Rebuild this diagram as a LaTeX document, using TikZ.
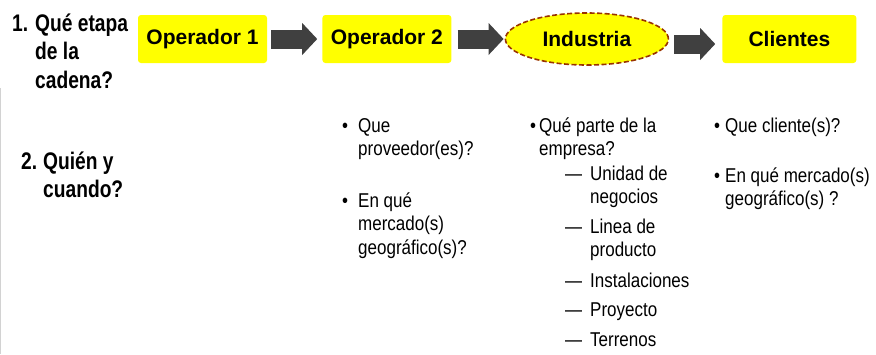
\documentclass[tikz,border=0pt]{standalone}
\usepackage{fontspec}
\setmainfont{Liberation Sans}
\newfontfamily\angosta[FakeStretch=0.85]{Liberation Sans}
\newfontfamily\angostanegrita[FakeStretch=0.8]{Liberation Sans}
\usepackage{tikz}
\usetikzlibrary{positioning,shapes.geometric,arrows.meta}
\definecolor{amarillo}{HTML}{FFFF00}
\definecolor{grisflecha}{HTML}{404040}
\definecolor{borde}{HTML}{993300}

\begin{document}
\begin{tikzpicture}[x=1pt, y=-1pt,
  caja/.style={rectangle, fill=amarillo, rounded corners=3pt, minimum width=129pt, minimum height=48pt, inner sep=0pt, font=\bfseries\fontsize{21}{25}\selectfont},
  ovalo/.style={ellipse, fill=amarillo, draw=borde, line width=1.6pt, dash pattern=on 5pt off 2.5pt, minimum width=163pt, minimum height=52pt, inner sep=0pt, font=\bfseries\fontsize{21}{25}\selectfont},
  flecha/.style={grisflecha, line width=19pt, -{Triangle[length=15pt, width=32pt, line width=0pt]}},
  pregunta/.style={anchor=base west, inner sep=0pt, font=\angostanegrita\bfseries\fontsize{24}{28.5}\selectfont},
  vineta/.style={anchor=base west, inner sep=0pt, font=\angosta\fontsize{20}{23.5}\selectfont}
]
\useasboundingbox (0,0) rectangle (876,354);
\draw[gray!35, line width=1pt] (0.5,88) -- (0.5,354);

% Cadena
\node[caja] (op1) at (202.5,39) {Operador 1};
\node[caja, right=55pt of op1] (op2) {Operador 2};
\node[ovalo, right=53pt of op2] (ind) {Industria};
\node[caja, right=53pt of ind, minimum width=134pt] (cli) {Clientes};

% Flechas
\draw[flecha, shorten <=4pt, shorten >=5pt] (op1) -- (op2);
\draw[flecha, shorten <=6pt, shorten >=1pt] (op2) -- (ind);
\draw[flecha, shorten <=5pt, shorten >=7pt] ([yshift=-5pt]ind.east) -- ([yshift=-5pt]cli.west);

% Preguntas
\node[pregunta] (etapa) at (12,31) {\begin{tabular}[t]{@{}l@{\hspace{7pt}}l@{}}1. & Qué etapa\\ & de la\\ & cadena?\end{tabular}};
\node[pregunta] (quien) at (21,169) {\begin{tabular}[t]{@{}l@{\hspace{6pt}}l@{}}2. & Quién y\\ & cuando?\end{tabular}};

% Operador 2
\node[vineta] (prov) at (342,132) {\begin{tabular}[t]{@{}l@{}l@{}}\makebox[16pt][l]{\textbullet} & Que\\ & proveedor(es)?\end{tabular}};
\node[vineta] (merc) at (342,207) {\begin{tabular}[t]{@{}l@{}l@{}}\makebox[16pt][l]{\textbullet} & En qué\\ & mercado(s)\\ & geográfico(s)?\end{tabular}};

% Industria
\node[vineta] (parte) at (530,132) {\begin{tabular}[t]{@{}l@{}l@{}}\makebox[9pt][l]{\textbullet} & Qué parte de la\\ & empresa?\end{tabular}};
\node[vineta] (unidad) at (565,180) {\begin{tabular}[t]{@{}l@{}l@{}}\makebox[25pt][l]{—} & Unidad de\\ & negocios\end{tabular}};
\node[vineta] (linea) at (565,233) {\begin{tabular}[t]{@{}l@{}l@{}}\makebox[25pt][l]{—} & Linea de\\ & producto\end{tabular}};
\node[vineta] (inst) at (565,287) {\makebox[25pt][l]{—}Instalaciones};
\node[vineta] (proy) at (565,316.5) {\makebox[25pt][l]{—}Proyecto};
\node[vineta] (terr) at (565,346) {\makebox[25pt][l]{—}Terrenos};

% Clientes
\node[vineta] (quecli) at (714,132) {\begin{tabular}[t]{@{}l@{}l@{}}\makebox[11pt][l]{\textbullet} & Que cliente(s)?\end{tabular}};
\node[vineta] (geo) at (714,182) {\begin{tabular}[t]{@{}l@{}l@{}}\makebox[11pt][l]{\textbullet} & En qué mercado(s)\\ & geográfico(s) ?\end{tabular}};

\end{tikzpicture}
\end{document}
